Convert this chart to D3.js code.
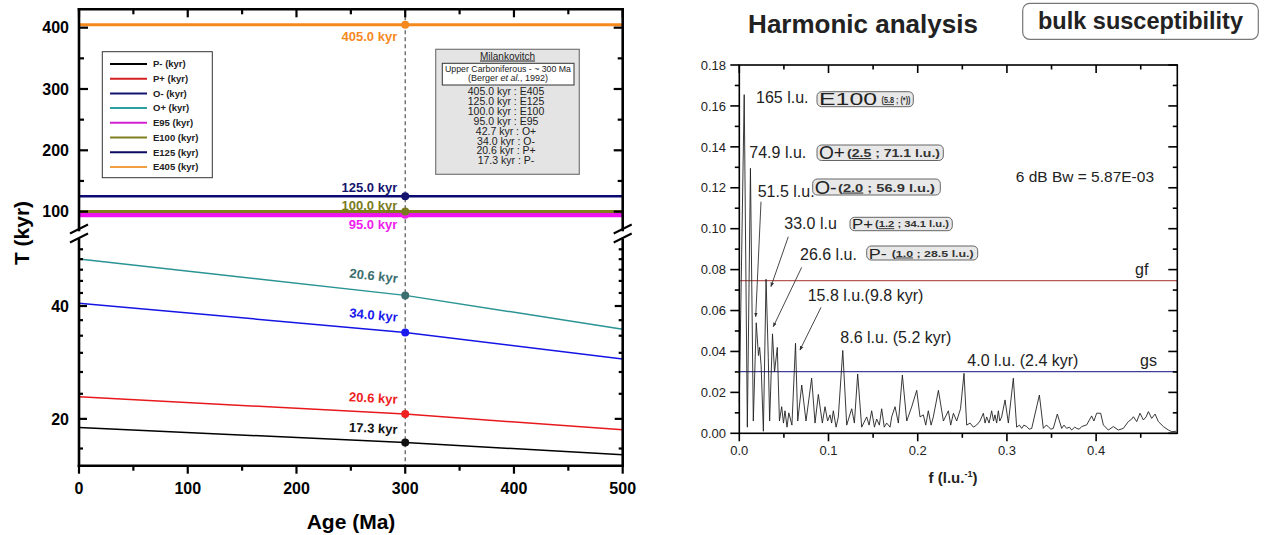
<!DOCTYPE html>
<html>
<head>
<meta charset="utf-8">
<script src="https://cdnjs.cloudflare.com/ajax/libs/d3/7.8.5/d3.min.js"></script>
<style>
  body { margin: 0; background: #fff; }
  svg { display: block; font-family: "Liberation Sans", Arial, sans-serif; }
</style>
</head>
<body>
<div id="chart"></div>
<script>
// ---------- left panel: Milankovitch periods vs age ----------
var ages = [0, 300, 500];
var pMinus = [18.96, 17.3, 16.04];
var pPlus = [22.9, 20.6, 18.7];
var oMinus = [40.7, 34.0, 28.9];
var oPlus = [53.4, 42.7, 34.7];
var e95 = [95, 95, 95];
var e100 = [100, 100, 100];
var e125 = [125, 125, 125];
var e405 = [405, 405, 405];
var markAge = 300;

var seriesNames = ["P- (kyr)", "P+ (kyr)", "O- (kyr)", "O+ (kyr)", "E95 (kyr)", "E100 (kyr)", "E125 (kyr)", "E405 (kyr)"];
var markLabels = ["17.3 kyr", "20.6 kyr", "34.0 kyr", "20.6 kyr", "95.0 kyr", "100.0 kyr", "125.0 kyr", "405.0 kyr"];
var milankovitch = ["405.0 kyr : E405", "125.0 kyr : E125", "100.0 kyr : E100", "95.0 kyr : E95",
  "42.7 kyr : O+", "34.0 kyr : O-", "20.6 kyr : P+", "17.3 kyr : P-"];

var ageTicks = [0, 50, 100, 150, 200, 250, 300, 350, 400, 450, 500];
var upperTicks = [100, 150, 200, 250, 300, 350, 400];
var lowerTicks = [16.67, 20, 23.33, 26.67, 30, 33.33, 36.67, 40, 43.33, 46.67, 50, 53.33, 56.67];
var lowerLabels = [20, 40];

// ---------- right panel: harmonic analysis spectrum ----------
var freq = [0.000, 0.0055, 0.0090, 0.0125, 0.0157, 0.0190, 0.0215, 0.0228, 0.0245, 0.0270,
  0.0300, 0.0325, 0.0340, 0.0372, 0.0395, 0.0426, 0.0450, 0.0475, 0.0495, 0.0512,
  0.0535, 0.0555, 0.0590, 0.0630, 0.0655, 0.0700, 0.0748, 0.0811, 0.0849, 0.0886,
  0.0931, 0.0961, 0.0990, 0.1017, 0.1035, 0.1054, 0.1085, 0.1110, 0.1160, 0.1204,
  0.1260, 0.1290, 0.1327, 0.1372, 0.1428, 0.1455, 0.1484, 0.1515, 0.1540, 0.1570,
  0.1596, 0.1625, 0.1652, 0.1690, 0.1708, 0.1746, 0.1783, 0.1828, 0.1877, 0.1933,
  0.1989, 0.2026, 0.2063, 0.2090, 0.2119, 0.2150, 0.2175, 0.2232, 0.2288, 0.2344,
  0.2370, 0.2400, 0.2437, 0.2480, 0.2519, 0.2549, 0.2587, 0.2624, 0.2660, 0.2698,
  0.2736, 0.2755, 0.2773, 0.2800, 0.2829, 0.2850, 0.2866, 0.2885, 0.2904, 0.2920,
  0.2941, 0.2979, 0.3016, 0.3072, 0.3109, 0.3140, 0.3166, 0.3190, 0.3222, 0.3250,
  0.3278, 0.3364, 0.3408, 0.3440, 0.3464, 0.3490, 0.3520, 0.3565, 0.3614, 0.3640,
  0.3670, 0.3700, 0.3726, 0.3760, 0.3782, 0.3810, 0.3838, 0.3894, 0.3950, 0.3975,
  0.4006, 0.4051, 0.4081, 0.4137, 0.4193, 0.4249, 0.4305, 0.4361, 0.4400, 0.4418,
  0.4455, 0.4492, 0.4530, 0.4560, 0.4586, 0.4623, 0.4661, 0.4698, 0.4754, 0.4810,
  0.4848, 0.4900];
var amp = [0.015, 0.1655, 0.003, 0.1295, 0.006, 0.054, 0.038, 0.042, 0.033, 0.001,
  0.0753, 0.037, 0.006, 0.0486, 0.030, 0.042, 0.006, 0.013, 0.005, 0.011,
  0.003, 0.010, 0.004, 0.044, 0.006, 0.0236, 0.006, 0.027, 0.005, 0.019,
  0.005, 0.013, 0.006, 0.009, 0.005, 0.011, 0.003, 0.008, 0.0405, 0.004,
  0.012, 0.005, 0.029, 0.003, 0.008, 0.004, 0.011, 0.003, 0.007, 0.004,
  0.012, 0.003, 0.005, 0.003, 0.008, 0.013, 0.005, 0.0285, 0.006, 0.013,
  0.021, 0.008, 0.009, 0.004, 0.011, 0.004, 0.008, 0.021, 0.006, 0.011,
  0.004, 0.0098, 0.006, 0.012, 0.0293, 0.004, 0.005, 0.003, 0.004, 0.006,
  0.0098, 0.005, 0.008, 0.005, 0.011, 0.006, 0.009, 0.005, 0.011, 0.006,
  0.008, 0.0163, 0.005, 0.0269, 0.003, 0.004, 0.0024, 0.004, 0.0033, 0.002,
  0.0024, 0.0187, 0.0024, 0.004, 0.0033, 0.002, 0.0024, 0.0094, 0.0024, 0.004,
  0.0024, 0.003, 0.0016, 0.003, 0.0024, 0.002, 0.0033, 0.0041, 0.0085, 0.006,
  0.0098, 0.0098, 0.0041, 0.0016, 0.0033, 0.0016, 0.0024, 0.0057, 0.007, 0.0081,
  0.0057, 0.0098, 0.0065, 0.008, 0.0106, 0.0073, 0.0094, 0.0057, 0.0033, 0.0016,
  0.0008, 0.001];
var gfLevel = 0.0746;
var gsLevel = 0.0301;
var fTicks = [0, 0.05, 0.1, 0.15, 0.2, 0.25, 0.3, 0.35, 0.4, 0.45];
var aTicks = [0, 0.01, 0.02, 0.03, 0.04, 0.05, 0.06, 0.07, 0.08, 0.09, 0.1, 0.11, 0.12, 0.13, 0.14, 0.15, 0.16, 0.17, 0.18];

// ---------- styles ----------
var lineColors = ["#000000", "#e8191c", "#1414e6", "#2a9393", "#ee14ee", "#80801a", "#0a0a72", "#f5891e"];
var legendColors = ["#000000", "#d42020", "#141470", "#2aa0a0", "#d020d0", "#808020", "#0a0a60", "#f0a040"];
var dotColors = ["#111111", "#ee2020", "#1a1aee", "#3b6e6e", "#ee20ee", "#7a7a20", "#14146e", "#f5891e"];
var lineWidths = [1.5, 1.5, 1.5, 1.5, 5, 3, 2.5, 3];
var labelDy = [-8.6, -10.2, -10.8, -12.4, 14.5, -1.7, -4.6, 16.7];

var svg = d3.select("#chart").append("svg")
  .attr("width", 1265)
  .attr("height", 535);
svg.append("rect").attr("width", 1265).attr("height", 535).attr("fill", "#fff");

// ================= LEFT PANEL =================
var xAge = d3.scaleLinear().domain([0, 500]).range([79, 622.7]);
var yUpper = d3.scaleLinear().domain([70, 430]).range([230, 9.3]);
var yLower = d3.scaleLog().domain([15, 60]).range([465.7, 240]);
function yT(v) { return v >= 70 ? yUpper(v) : yLower(v); }

var left = svg.append("g");
var allSeries = [pMinus, pPlus, oMinus, oPlus, e95, e100, e125, e405];

// dashed marker at 300 Ma
left.append("line")
  .attr("x1", xAge(markAge)).attr("x2", xAge(markAge))
  .attr("y1", yUpper(430)).attr("y2", yLower(15))
  .attr("stroke", "#555").attr("stroke-width", 1.2)
  .attr("stroke-dasharray", "4,3");

var periodLine = d3.line()
  .x(function(d, i) { return xAge(ages[i]); })
  .y(function(d) { return yT(d); });

left.selectAll(".period")
  .data(allSeries)
  .enter()
  .append("path")
  .attr("class", "period")
  .attr("d", periodLine)
  .attr("fill", "none")
  .attr("stroke", function(d, i) { return lineColors[i]; })
  .attr("stroke-width", function(d, i) { return lineWidths[i]; });

// dots + labels at 300 Ma
var mi = ages.indexOf(markAge);
allSeries.forEach(function(s, i) {
  var cx = xAge(markAge), cy = yT(s[mi]);
  left.append("circle")
    .attr("cx", cx).attr("cy", cy).attr("r", 4)
    .attr("fill", dotColors[i]);
  var ang = Math.atan2(yT(s[mi]) - yT(s[0]), xAge(markAge) - xAge(ages[0])) * 180 / Math.PI;
  var tx = cx - 8, ty = cy + labelDy[i];
  left.append("text")
    .attr("x", tx).attr("y", ty)
    .attr("text-anchor", "end")
    .attr("transform", "rotate(" + ang + "," + tx + "," + ty + ")")
    .attr("font-size", 13).attr("font-weight", "bold")
    .attr("fill", dotColors[i])
    .text(markLabels[i]);
});

// frame
var frame = left.append("g").attr("stroke", "#000").attr("stroke-width", 2.6).attr("stroke-linecap", "square");
[79, 622.7].forEach(function(x) {
  frame.append("line").attr("x1", x).attr("x2", x).attr("y1", yUpper(430)).attr("y2", yUpper(70));
  frame.append("line").attr("x1", x).attr("x2", x).attr("y1", yLower(60)).attr("y2", yLower(15));
  // axis break marks
  [yUpper(70) - 1, yLower(60) - 2].forEach(function(yb) {
    left.append("line")
      .attr("x1", x - 9).attr("y1", yb + 4.5)
      .attr("x2", x + 9).attr("y2", yb - 4.5)
      .attr("stroke", "#000").attr("stroke-width", 2);
  });
});
frame.append("line").attr("x1", 79).attr("x2", 622.7).attr("y1", yUpper(430)).attr("y2", yUpper(430));
frame.append("line").attr("x1", 79).attr("x2", 622.7).attr("y1", yLower(15)).attr("y2", yLower(15));

// ticks
var tk = left.append("g").attr("stroke", "#000").attr("stroke-width", 2.2);
ageTicks.forEach(function(a) {
  var major = a % 100 === 0;
  var len = major ? 8 : 5;
  tk.append("line").attr("x1", xAge(a)).attr("x2", xAge(a))
    .attr("y1", yLower(15)).attr("y2", yLower(15) + len);
  tk.append("line").attr("x1", xAge(a)).attr("x2", xAge(a))
    .attr("y1", yUpper(430)).attr("y2", yUpper(430) + len);
  if (major) {
    left.append("text").attr("x", xAge(a)).attr("y", 494)
      .attr("text-anchor", "middle").attr("font-size", 16).attr("font-weight", "bold")
      .text(a);
  }
});
upperTicks.forEach(function(v) {
  var major = v % 100 === 0;
  var len = major ? 9 : 5;
  tk.append("line").attr("x1", 79).attr("x2", 79 + len).attr("y1", yUpper(v)).attr("y2", yUpper(v));
  tk.append("line").attr("x1", 622.7).attr("x2", 622.7 - len).attr("y1", yUpper(v)).attr("y2", yUpper(v));
  if (major) {
    left.append("text").attr("x", 69).attr("y", yUpper(v)).attr("dy", "0.36em")
      .attr("text-anchor", "end").attr("font-size", 16).attr("font-weight", "bold")
      .text(v);
  }
});
lowerTicks.forEach(function(v) {
  var major = lowerLabels.indexOf(v) >= 0;
  var len = major ? 8 : 4;
  tk.append("line").attr("x1", 79).attr("x2", 79 + len).attr("y1", yLower(v)).attr("y2", yLower(v));
  tk.append("line").attr("x1", 622.7).attr("x2", 622.7 - len).attr("y1", yLower(v)).attr("y2", yLower(v));
  if (major) {
    left.append("text").attr("x", 69).attr("y", yLower(v)).attr("dy", "0.36em")
      .attr("text-anchor", "end").attr("font-size", 16).attr("font-weight", "bold")
      .text(v);
  }
});

// axis titles
left.append("text")
  .attr("transform", "translate(29,233) rotate(-90)")
  .attr("text-anchor", "middle").attr("font-size", 21).attr("font-weight", "bold")
  .text("T (kyr)");
left.append("text")
  .attr("x", 351).attr("y", 529)
  .attr("text-anchor", "middle").attr("font-size", 21).attr("font-weight", "bold")
  .text("Age (Ma)");

// legend
var legend = left.append("g");
legend.append("rect")
  .attr("x", 102.3).attr("y", 51.7).attr("width", 110).attr("height", 126)
  .attr("fill", "#fff").attr("stroke", "#333").attr("stroke-width", 1);
seriesNames.forEach(function(name, i) {
  var ly = 64 + i * 14.7;
  legend.append("line").attr("x1", 110).attr("x2", 147).attr("y1", ly).attr("y2", ly)
    .attr("stroke", legendColors[i]).attr("stroke-width", 2);
  legend.append("text").attr("x", 153).attr("y", ly).attr("dy", "0.35em")
    .attr("font-size", 9.5).attr("font-weight", "bold").attr("fill", "#222")
    .text(name);
});

// Milankovitch box
var mk = left.append("g");
mk.append("rect")
  .attr("x", 435.7).attr("y", 49.3).attr("width", 143.6).attr("height", 125)
  .attr("fill", "#e4e4e4").attr("stroke", "#777").attr("stroke-width", 1.2);
mk.append("text").attr("x", 507.5).attr("y", 59.5)
  .attr("text-anchor", "middle").attr("font-size", 10)
  .attr("text-decoration", "underline").attr("fill", "#222")
  .text("Milankovitch");
mk.append("rect")
  .attr("x", 442.3).attr("y", 63.3).attr("width", 131.7).attr("height", 21.7)
  .attr("fill", "#fff").attr("stroke", "#333").attr("stroke-width", 1);
mk.append("text").attr("x", 508).attr("y", 71.5)
  .attr("text-anchor", "middle").attr("font-size", 9)
  .attr("textLength", 126).attr("lengthAdjust", "spacingAndGlyphs").attr("fill", "#222")
  .text("Upper Carboniferous - ~ 300 Ma");
var cite = mk.append("text").attr("x", 508).attr("y", 80.5)
  .attr("text-anchor", "middle").attr("font-size", 9).attr("fill", "#222");
cite.append("tspan").text("(Berger ");
cite.append("tspan").attr("font-style", "italic").text("et al.");
cite.append("tspan").text(", 1992)");
milankovitch.forEach(function(t, i) {
  mk.append("text").attr("x", 506).attr("y", 95 + i * 9.9)
    .attr("text-anchor", "middle").attr("font-size", 10.5).attr("fill", "#222")
    .text(t);
});

// ================= RIGHT PANEL =================
var xF = d3.scaleLinear().domain([0, 0.491]).range([739.3, 1177.3]);
var yA = d3.scaleLinear().domain([0, 0.18]).range([433.3, 65]);
var right = svg.append("g");

// title + tag
right.append("text").attr("x", 863).attr("y", 33.3)
  .attr("text-anchor", "middle").attr("font-size", 26).attr("font-weight", "bold").attr("fill", "#222")
  .text("Harmonic analysis");
right.append("rect")
  .attr("x", 1022.7).attr("y", 3.3).attr("width", 235.6).attr("height", 36).attr("rx", 7)
  .attr("fill", "#fff").attr("stroke", "#777").attr("stroke-width", 1.2);
right.append("text").attr("x", 1140.5).attr("y", 29.3)
  .attr("text-anchor", "middle").attr("font-size", 23.5).attr("font-weight", "bold").attr("fill", "#222")
  .text("bulk susceptibility");

// significance levels
right.append("line").attr("x1", xF(0)).attr("x2", xF(0.491))
  .attr("y1", yA(gfLevel)).attr("y2", yA(gfLevel))
  .attr("stroke", "#b85a55").attr("stroke-width", 1.2);
right.append("line").attr("x1", xF(0)).attr("x2", xF(0.491))
  .attr("y1", yA(gsLevel)).attr("y2", yA(gsLevel))
  .attr("stroke", "#40409a").attr("stroke-width", 1.2);

// spectrum
var specLine = d3.line()
  .x(function(d, i) { return xF(freq[i]); })
  .y(function(d) { return yA(d); });
right.append("path")
  .attr("d", specLine(amp))
  .attr("fill", "none").attr("stroke", "#222").attr("stroke-width", 0.9);

// frame
var rf = right.append("g").attr("stroke", "#000").attr("stroke-width", 1.6);
rf.append("rect").attr("x", xF(0)).attr("y", yA(0.18))
  .attr("width", xF(0.491) - xF(0)).attr("height", yA(0) - yA(0.18)).attr("fill", "none");
aTicks.forEach(function(v, i) {
  var major = i % 2 === 0;
  var len = major ? 9 : 4.5;
  rf.append("line").attr("x1", xF(0) - len).attr("x2", xF(0)).attr("y1", yA(v)).attr("y2", yA(v));
  rf.append("line").attr("x1", xF(0.491) - len).attr("x2", xF(0.491)).attr("y1", yA(v)).attr("y2", yA(v));
  if (major) {
    right.append("text").attr("x", 726).attr("y", yA(v)).attr("dy", "0.36em")
      .attr("text-anchor", "end").attr("font-size", 13).attr("fill", "#222")
      .text(d3.format(".2f")(v));
  }
});
fTicks.forEach(function(v, i) {
  var major = i % 2 === 0;
  var len = major ? 8 : 4.5;
  rf.append("line").attr("x1", xF(v)).attr("x2", xF(v)).attr("y1", yA(0)).attr("y2", yA(0) + len);
  rf.append("line").attr("x1", xF(v)).attr("x2", xF(v)).attr("y1", yA(0.18)).attr("y2", yA(0.18) + len);
  if (major) {
    right.append("text").attr("x", xF(v)).attr("y", 455)
      .attr("text-anchor", "middle").attr("font-size", 13).attr("fill", "#222")
      .text(d3.format(".1f")(v));
  }
});
var fl = right.append("text").attr("x", 953).attr("y", 483)
  .attr("text-anchor", "middle").attr("font-size", 15).attr("font-weight", "bold").attr("fill", "#222");
fl.append("tspan").text("f (l.u.");
fl.append("tspan").attr("font-size", 9).attr("dy", -6).text("-1");
fl.append("tspan").attr("dy", 6).text(")");

// peak annotations
var plain = [
  { t: "165 l.u.", x: 756, y: 103 },
  { t: "74.9 l.u.", x: 749.3, y: 158.3 },
  { t: "51.5 l.u.", x: 757.7, y: 196.7 },
  { t: "33.0 l.u", x: 784.3, y: 229.3 },
  { t: "26.6 l.u.", x: 800, y: 260 },
  { t: "15.8 l.u.(9.8 kyr)", x: 807.7, y: 300.7 },
  { t: "8.6 l.u. (5.2 kyr)", x: 840.3, y: 343.3 },
  { t: "4.0 l.u. (2.4 kyr)", x: 967.3, y: 366 },
  { t: "gf", x: 1135, y: 275 },
  { t: "gs", x: 1140, y: 366 }
];
plain.forEach(function(p) {
  right.append("text").attr("x", p.x).attr("y", p.y)
    .attr("font-size", 16).attr("fill", "#222").text(p.t);
});
right.append("text").attr("x", 1154).attr("y", 182)
  .attr("text-anchor", "end").attr("font-size", 15.5).attr("fill", "#222")
  .text("6 dB Bw = 5.87E-03");

// boxed Milankovitch tags
var tags = [
  { big: "E100", bigW: 58, u: "5.8", rest: " ; (*))", x: 817, y: 91.7, w: 96.3, h: 15, smallX: 881.5, smallW: 29, bs: 17, ss: 9 },
  { big: "O+", bigW: 26, u: "2.5", rest: " ; 71.1 l.u.)", x: 817, y: 145, w: 126.3, h: 15.5, smallX: 847, smallW: 93, bs: 19, ss: 11 },
  { big: "O-", bigW: 22, u: "2.0", rest: " ; 56.9 l.u.)", x: 812.7, y: 179, w: 127.6, h: 16, smallX: 838, smallW: 97, bs: 19, ss: 11 },
  { big: "P+", bigW: 21, u: "1.2", rest: " ; 34.1 l.u.)", x: 850, y: 217.3, w: 102.3, h: 13.4, smallX: 875, smallW: 74, bs: 15, ss: 9.5 },
  { big: "P-", bigW: 18, u: "1.0", rest: " ; 28.5 l.u.)", x: 866.7, y: 246, w: 111, h: 14, smallX: 891.7, smallW: 82, bs: 15, ss: 9.5 }
];
tags.forEach(function(b) {
  right.append("rect").attr("x", b.x).attr("y", b.y).attr("width", b.w).attr("height", b.h)
    .attr("rx", 4.5).attr("fill", "#e8e8e8").attr("stroke", "#666").attr("stroke-width", 1);
  right.append("text").attr("x", b.x + 2).attr("y", b.y + b.h - 1.5)
    .attr("font-size", b.bs).attr("fill", "#222")
    .attr("textLength", b.bigW).attr("lengthAdjust", "spacingAndGlyphs")
    .text(b.big);
  var s = right.append("text").attr("x", b.smallX).attr("y", b.y + b.h - 3.5)
    .attr("font-size", b.ss).attr("font-weight", "bold").attr("fill", "#333")
    .attr("textLength", b.smallW).attr("lengthAdjust", "spacingAndGlyphs");
  s.append("tspan").text("(");
  s.append("tspan").attr("text-decoration", "underline").text(b.u);
  s.append("tspan").text(b.rest);
});

// arrows to peaks
svg.append("defs").append("marker")
  .attr("id", "head").attr("viewBox", "0 0 10 10").attr("refX", 9).attr("refY", 5)
  .attr("markerWidth", 5).attr("markerHeight", 5).attr("orient", "auto")
  .append("path").attr("d", "M0,1 L10,5 L0,9 z").attr("fill", "#333");
var arrows = [
  { x1: 761, y1: 201.7, f: 0.0184, a: 0.057 },
  { x1: 788.3, y1: 236.7, f: 0.0355, a: 0.0717 },
  { x1: 801.7, y1: 267.3, f: 0.0381, a: 0.0521 },
  { x1: 821, y1: 307.3, f: 0.068, a: 0.0407 }
];
arrows.forEach(function(a) {
  right.append("line").attr("x1", a.x1).attr("y1", a.y1)
    .attr("x2", xF(a.f)).attr("y2", yA(a.a))
    .attr("stroke", "#333").attr("stroke-width", 0.9)
    .attr("marker-end", "url(#head)");
});
</script>
</body>
</html>
